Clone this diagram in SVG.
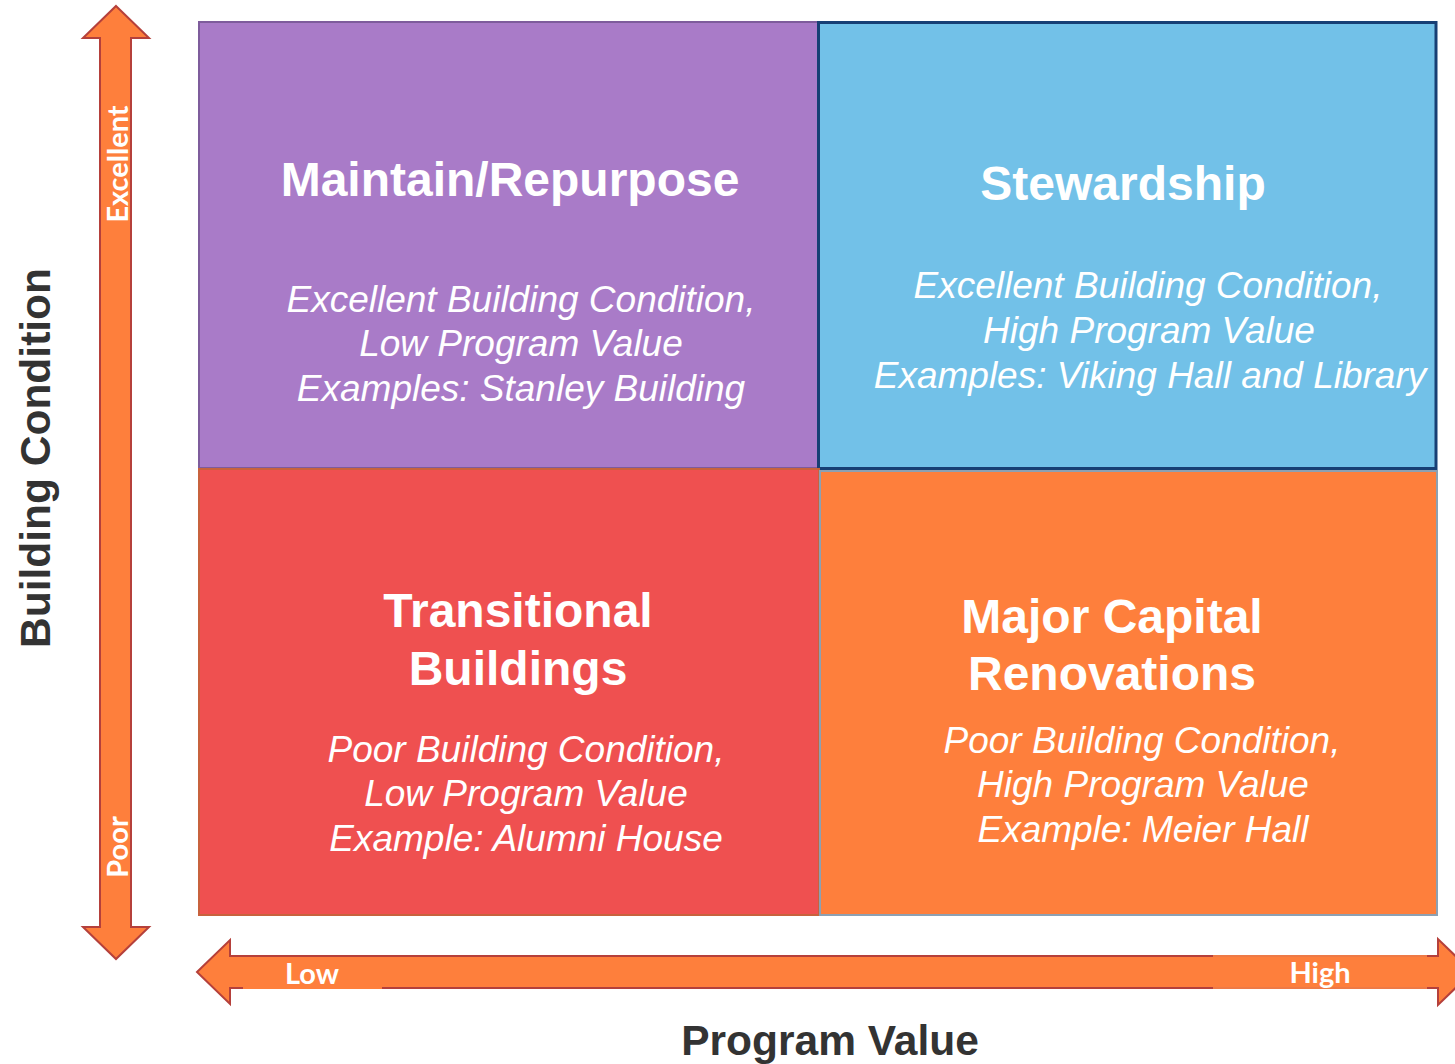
<svg xmlns="http://www.w3.org/2000/svg" width="1455" height="1064" viewBox="0 0 1455 1064">
  <style>
    .title { font-family: "Liberation Sans", Arial, sans-serif; font-weight: bold; font-size: 48px; fill: #ffffff; text-anchor: middle; }
    .desc { font-family: "Liberation Sans", Arial, sans-serif; font-style: italic; font-size: 37px; fill: #ffffff; text-anchor: middle; }
    .axis { font-family: "Liberation Sans", Arial, sans-serif; font-weight: bold; font-size: 42.5px; fill: #333333; text-anchor: middle; }
    .tick { font-family: Lato, "Open Sans", sans-serif; font-weight: bold; font-size: 29px; fill: #ffffff; text-anchor: middle; }
    .arrow { fill: #FE7F3C; stroke: #B5403B; stroke-width: 2; stroke-linejoin: miter; }
    .patch { fill: #FE7F3C; }
  </style>

  <rect width="1455" height="1064" fill="#ffffff"/>

  <!-- quadrants -->
  <g id="maintain-repurpose">
    <rect x="199" y="22" width="619" height="446" fill="#A97BC8" stroke="#7E5C9C" stroke-width="2"/>
    <text class="title" x="510" y="196">Maintain/Repurpose</text>
    <text class="desc" x="521" y="312">Excellent Building Condition,</text>
    <text class="desc" x="521" y="356">Low Program Value</text>
    <text class="desc" x="521" y="401">Examples: Stanley Building</text>
  </g>

  <g id="stewardship">
    <rect x="818.5" y="22.5" width="617.5" height="446" fill="#72C1E8" stroke="#173F74" stroke-width="3"/>
    <text class="title" x="1123" y="200">Stewardship</text>
    <text class="desc" x="1148" y="298">Excellent Building Condition,</text>
    <text class="desc" x="1149" y="343">High Program Value</text>
    <text class="desc" x="1150" y="388">Examples: Viking Hall and Library</text>
  </g>

  <g id="transitional">
    <rect x="199" y="469" width="620" height="446" fill="#EF5050" stroke="#C8623D" stroke-width="2"/>
    <text class="title" x="518" y="627">Transitional</text>
    <text class="title" x="518" y="685">Buildings</text>
    <text class="desc" x="526" y="762">Poor Building Condition,</text>
    <text class="desc" x="526" y="806">Low Program Value</text>
    <text class="desc" x="526" y="851">Example: Alumni House</text>
  </g>

  <g id="major-capital">
    <rect x="820" y="471" width="617" height="444" fill="#FE7F3C" stroke="#8DA0B2" stroke-width="2"/>
    <text class="title" x="1112" y="633">Major Capital</text>
    <text class="title" x="1112" y="690">Renovations</text>
    <text class="desc" x="1142" y="753">Poor Building Condition,</text>
    <text class="desc" x="1143" y="797">High Program Value</text>
    <text class="desc" x="1143" y="842">Example: Meier Hall</text>
  </g>

  <!-- axis arrows -->
  <g id="connectors">
    <g id="condition-axis">
      <path class="arrow" d="M116,6 L149,38 L131,38 L131,927 L149,927 L116,959 L83,927 L100,927 L100,38 L83,38 Z"/>
      <rect class="patch" x="101" y="76" width="29" height="177"/>
      <text class="tick" transform="translate(128,164) rotate(-90)">Excellent</text>
      <text class="tick" transform="translate(128,847) rotate(-90)">Poor</text>
    </g>
    <g id="value-axis">
      <path class="arrow" d="M197,972 L230,940 L230,956 L1438,956 L1438,939 L1472,972 L1438,1005 L1438,988 L230,988 L230,1004 Z"/>
      <rect class="patch" x="243" y="957" width="139" height="32"/>
      <rect class="patch" x="1213" y="955" width="214" height="34"/>
      <line x1="1213" y1="956" x2="1427" y2="956" stroke="#E9784A" stroke-width="1.5"/>
      <line x1="1213" y1="988" x2="1427" y2="988" stroke="#E9784A" stroke-width="1.5"/>
      <text class="tick" x="312" y="984">Low</text>
      <text class="tick" x="1320" y="983">High</text>
    </g>
  </g>

  <!-- axis titles -->
  <g id="axis-titles">
    <text class="axis" transform="translate(50,458) rotate(-90)">Building Condition</text>
    <text class="axis" x="830" y="1055">Program Value</text>
  </g>
</svg>
